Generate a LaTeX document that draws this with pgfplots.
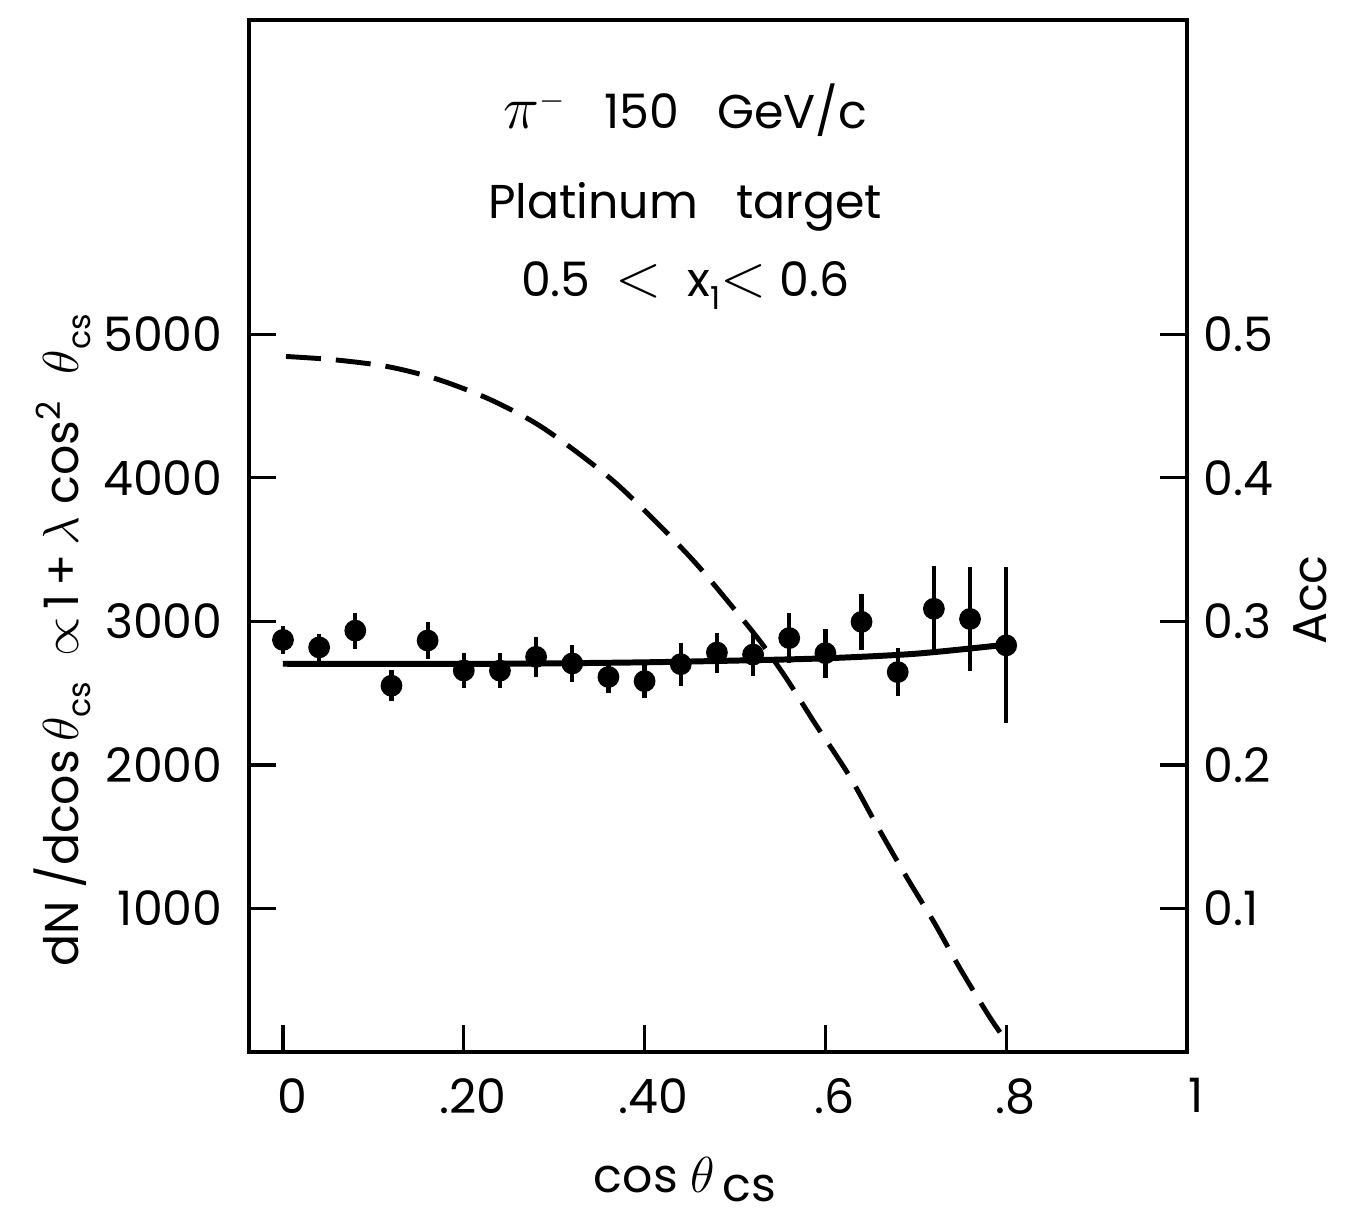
\documentclass[border=0pt]{standalone}
\usepackage{fontspec}
\setmainfont{Poppins}
\usepackage{pgfplots}
\pgfplotsset{compat=1.18}
\begin{document}
\fontsize{13.5}{16}\selectfont
\begin{tikzpicture}
\useasboundingbox (0,0) rectangle (13.48,12.14);
\begin{axis}[
  at={(2.49cm,1.62cm)}, anchor=south west,
  scale only axis, width=9.38cm, height=10.32cm,
  xmin=-0.0376, xmax=1.0, ymin=0, ymax=7190,
  axis line style={line width=0.9pt},
  tick style={line width=0.9pt, black},
  major tick length=0.27cm, tick align=inside,
  xtick={0,0.2,0.4,0.6,0.8,1}, xticklabels={0,.20,.40,.6,.8,1},
  xtick pos=bottom, ytick pos=left,
  ytick={1000,2000,3000,4000,5000}, yticklabels={1000,2000,3000,4000,5000},
  ticklabel style={font=\fontsize{13.5}{16}\selectfont},
  xticklabel style={yshift=-0.1cm, xshift=0.09cm},
  yticklabel style={xshift=-0.1cm},
  xlabel={cos $\theta$\,\raisebox{-0.35ex}{cs}},
  xlabel style={at={(axis description cs:0.465,-0.124)}, anchor=center},
  ylabel={dN /dcos\,$\theta$\raisebox{-0.45ex}{\small cs}\ \ $\propto$\,1\,+\,$\lambda$ cos\textsuperscript{2}\ \ $\theta$\raisebox{-0.45ex}{\small cs}},
  ylabel style={at={(axis description cs:-0.199,0.399)}, anchor=center},
  clip=false,
]
\addplot[line width=1.4pt, dash pattern=on 0.35cm off 0.15cm, smooth] coordinates {
(0.0033,4846)(0.058,4822)(0.116,4775)(0.169,4691)(0.2256,4556)(0.2784,4385)
(0.322,4194)(0.3675,3967)(0.4126,3694)(0.4559,3410)(0.4955,3114)(0.528,2860)
(0.5565,2606)(0.5887,2287)(0.6262,1927)(0.6582,1564)(0.690,1217)(0.7206,899)
(0.749,581)(0.779,270)(0.7936,133)};
\addplot[line width=1.7pt, smooth] coordinates {
(0,2705)(0.1,2704)(0.2,2704)(0.3,2708)(0.4,2715)(0.5,2727)(0.6,2743)(0.7,2775)(0.8,2838)};
\addplot[only marks, mark=*, mark size=2.9pt, black,
  error bars/.cd, y dir=both, y explicit, error mark=none,
  error bar style={line width=1.2pt}] coordinates {
(0.00,2871) +- (0,99)
(0.04,2819) +- (0,96)
(0.08,2936) +- (0,125)
(0.12,2552) +- (0,108)
(0.16,2867) +- (0,131)
(0.20,2658) +- (0,125)
(0.24,2657) +- (0,120)
(0.28,2753) +- (0,139)
(0.32,2707) +- (0,128)
(0.36,2613) +- (0,110)
(0.40,2584) +- (0,116)
(0.44,2702) +- (0,151)
(0.48,2783) +- (0,139)
(0.52,2769) +- (0,148)
(0.56,2884) +- (0,177)
(0.60,2779) +- (0,170)
(0.64,2997) +- (0,194)
(0.68,2647) +- (0,168)
(0.72,3088) +- (0,299)
(0.76,3017) +- (0,360)
(0.80,2833) +- (0,543)};
\node at (rel axis cs:0.465,0.9128) {{\fontsize{17}{20}\selectfont$\pi$}$^-$\ \ \ 150\ \ \ GeV/c};
\node at (rel axis cs:0.465,0.8188) {Platinum\ \ \ target};
\node at (rel axis cs:0.465,0.7432) {0.5\ \ {\fontsize{17}{20}\selectfont$<$}\ \ x\raisebox{-0.5ex}{\small 1}{\fontsize{17}{20}\selectfont$<$}\ 0.6};
\end{axis}
\begin{axis}[
  at={(2.49cm,1.62cm)}, anchor=south west,
  scale only axis, width=9.38cm, height=10.32cm,
  xmin=-0.0376, xmax=1.0, ymin=0, ymax=0.719,
  axis x line=none, axis y line*=right,
  axis line style={line width=0.9pt, -},
  tick style={line width=0.9pt, black},
  major tick length=0.27cm, tick align=inside,
  ytick={0.1,0.2,0.3,0.4,0.5}, yticklabels={0.1,0.2,0.3,0.4,0.5},
  ticklabel style={font=\fontsize{13.5}{16}\selectfont},
  ylabel={Acc},
  ylabel style={at={(axis description cs:1.131,0.438)}, anchor=center, rotate=0},
]
\addplot[draw=none] coordinates {(0,0)};
\end{axis}
\end{tikzpicture}
\end{document}
